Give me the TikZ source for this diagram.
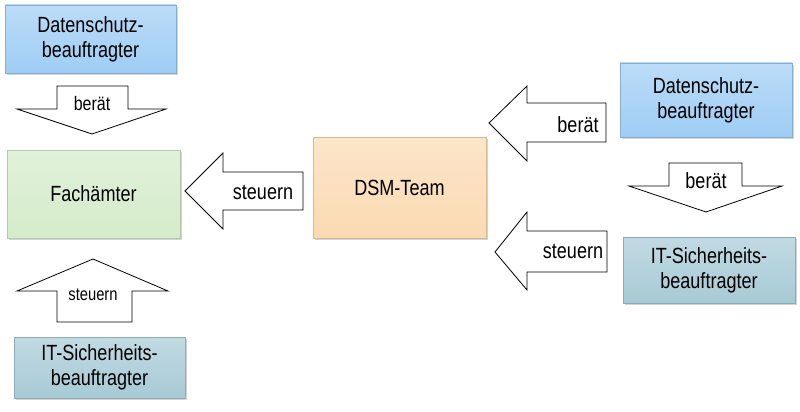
\documentclass[tikz,border=0pt]{standalone}
\usepackage{fontspec}
\setmainfont{Liberation Sans}
\newfontfamily\narrowsans[FakeStretch=0.82]{Liberation Sans}
\usetikzlibrary{shadows}
\definecolor{dsblue}{HTML}{9ECDF4}
\definecolor{fagreen}{HTML}{D4ECCA}
\definecolor{dsmpeach}{HTML}{FBDAB2}
\definecolor{itblue}{HTML}{A7CAD6}
\tikzset{
  box/.style={draw=#1!85!black, line width=0.4pt, top color=#1!70!white, bottom color=#1,
    inner sep=0pt, align=center,
    font=\narrowsans\fontsize{22}{25}\selectfont,
    drop shadow={shadow xshift=2pt, shadow yshift=-2pt, opacity=0.35}},
  blockarrow/.style={draw=black, line width=0.8pt, fill=white, line join=miter},
  biglabel/.style={font=\narrowsans\fontsize{22}{25}\selectfont, inner sep=0pt},
}
\begin{document}
\begin{tikzpicture}[x=1pt,y=-1pt]
  \useasboundingbox (0,0) rectangle (800,412);
  \node[box=dsblue, minimum width=171, minimum height=68] (dsbL) at (90.5,39) {Datenschutz-\\beauftragter};
  \node[box=fagreen, minimum width=173, minimum height=88] (fach) at (93.5,194) {Fachämter};
  \node[box=itblue, minimum width=171, minimum height=61] (itL) at (99.5,367.5) {IT-Sicherheits-\\beauftragter};
  \node[box=dsmpeach, minimum width=173, minimum height=101] (dsm) at (399.5,187.5) {DSM-Team};
  \node[box=dsblue, minimum width=172, minimum height=74] (dsbR) at (706,100) {Datenschutz-\\beauftragter};
  \node[box=itblue, minimum width=172, minimum height=66] (itR) at (709,270) {IT-Sicherheits-\\beauftragter};
  \begin{scope}[blockarrow]
    \draw (57,86) -- (128,86) -- (128,109) -- (166,109) -- (92,134) -- (17,109) -- (57,109) -- cycle;
    \draw (57,322) -- (57,291) -- (17,291) -- (93,259) -- (168,291) -- (132,291) -- (132,322) -- cycle;
    \draw (303,172) -- (223,172) -- (223,153) -- (185,191) -- (223,229) -- (223,210) -- (303,210) -- cycle;
    \draw (606,103) -- (527,103) -- (527,86) -- (489,123) -- (527,161) -- (527,142) -- (606,142) -- cycle;
    \draw (669,163) -- (742,163) -- (742,186) -- (782,186) -- (706,212) -- (629,186) -- (669,186) -- cycle;
    \draw (607,231) -- (527,231) -- (527,212) -- (495,252) -- (527,290) -- (527,272) -- (607,272) -- cycle;
  \end{scope}
  \node[biglabel, font=\narrowsans\fontsize{19.5}{24}\selectfont] (beraetL) at (92,104) {berät};
  \node[biglabel, font=\narrowsans\fontsize{18}{24}\selectfont] (steuernL) at (93,295) {steuern};
  \node[biglabel] (steuernM) at (263,192) {steuern};
  \node[biglabel] (beraetR) at (578,125) {berät};
  \node[biglabel] (beraetD) at (706,181) {berät};
  \node[biglabel] (steuernR) at (573,251) {steuern};
\end{tikzpicture}
\end{document}
